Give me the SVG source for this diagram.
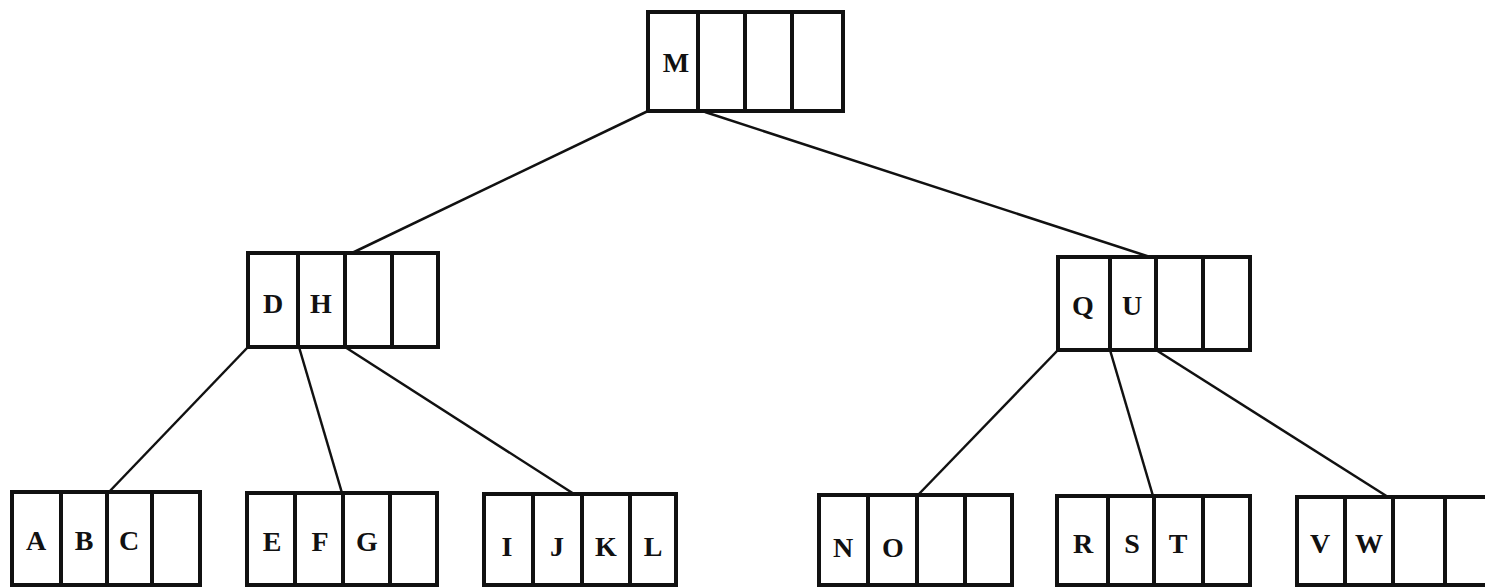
<svg xmlns="http://www.w3.org/2000/svg" width="1485" height="587" viewBox="0 0 1485 587">
<style>
.box{fill:#fff;stroke:#111;stroke-width:4}
.div{stroke:#111;stroke-width:4}
.edge{stroke:#111;stroke-width:2.5;fill:none}
text{font-family:"Liberation Serif","DejaVu Serif",serif;font-weight:bold;font-size:28px;fill:#111;text-anchor:middle}
</style>
<rect width="1485" height="587" fill="#fff"/>
<g id="connectors">
<line class="edge" x1="648" y1="111" x2="352" y2="253"/>
<line class="edge" x1="705" y1="112" x2="1150" y2="257"/>
<line class="edge" x1="248" y1="347" x2="108" y2="493"/>
<line class="edge" x1="299" y1="347" x2="342" y2="493"/>
<line class="edge" x1="345" y1="347" x2="574" y2="494"/>
<line class="edge" x1="1058" y1="350" x2="918" y2="495"/>
<line class="edge" x1="1110" y1="350" x2="1153" y2="496"/>
<line class="edge" x1="1156" y1="350" x2="1388" y2="497"/>
</g>
<g id="root">
<rect class="box" x="648" y="12" width="195" height="99"/>
<line class="div" x1="698" y1="12" x2="698" y2="111"/>
<line class="div" x1="745" y1="12" x2="745" y2="111"/>
<line class="div" x1="792" y1="12" x2="792" y2="111"/>
<text x="676" y="72">M</text>
</g>
<g id="node-DH">
<rect class="box" x="248" y="253" width="190" height="94"/>
<line class="div" x1="298" y1="253" x2="298" y2="347"/>
<line class="div" x1="345" y1="253" x2="345" y2="347"/>
<line class="div" x1="392" y1="253" x2="392" y2="347"/>
<text x="273" y="313">D</text>
<text x="321" y="313">H</text>
</g>
<g id="node-QU">
<rect class="box" x="1058" y="257" width="192" height="93"/>
<line class="div" x1="1110" y1="257" x2="1110" y2="350"/>
<line class="div" x1="1156" y1="257" x2="1156" y2="350"/>
<line class="div" x1="1203" y1="257" x2="1203" y2="350"/>
<text x="1083" y="315">Q</text>
<text x="1132" y="315">U</text>
</g>
<g id="leaf-ABC">
<rect class="box" x="12" y="492" width="188" height="93"/>
<line class="div" x1="61" y1="492" x2="61" y2="585"/>
<line class="div" x1="107" y1="492" x2="107" y2="585"/>
<line class="div" x1="152" y1="492" x2="152" y2="585"/>
<text x="36" y="550">A</text>
<text x="84" y="550">B</text>
<text x="129" y="550">C</text>
</g>
<g id="leaf-EFG">
<rect class="box" x="247" y="493" width="190" height="92"/>
<line class="div" x1="295" y1="493" x2="295" y2="585"/>
<line class="div" x1="343" y1="493" x2="343" y2="585"/>
<line class="div" x1="390" y1="493" x2="390" y2="585"/>
<text x="272" y="551">E</text>
<text x="320" y="551">F</text>
<text x="367" y="551">G</text>
</g>
<g id="leaf-IJKL">
<rect class="box" x="484" y="494" width="192" height="91"/>
<line class="div" x1="533" y1="494" x2="533" y2="585"/>
<line class="div" x1="582" y1="494" x2="582" y2="585"/>
<line class="div" x1="630" y1="494" x2="630" y2="585"/>
<text x="507" y="556">I</text>
<text x="557" y="556">J</text>
<text x="606" y="556">K</text>
<text x="653" y="556">L</text>
</g>
<g id="leaf-NO">
<rect class="box" x="819" y="495" width="193" height="90"/>
<line class="div" x1="868" y1="495" x2="868" y2="585"/>
<line class="div" x1="917" y1="495" x2="917" y2="585"/>
<line class="div" x1="965" y1="495" x2="965" y2="585"/>
<text x="843" y="557">N</text>
<text x="893" y="557">O</text>
</g>
<g id="leaf-RST">
<rect class="box" x="1057" y="496" width="193" height="89"/>
<line class="div" x1="1108" y1="496" x2="1108" y2="585"/>
<line class="div" x1="1154" y1="496" x2="1154" y2="585"/>
<line class="div" x1="1203" y1="496" x2="1203" y2="585"/>
<text x="1083" y="553">R</text>
<text x="1132" y="553">S</text>
<text x="1178" y="553">T</text>
</g>
<g id="leaf-VW">
<rect class="box" x="1297" y="497" width="195" height="88"/>
<line class="div" x1="1345" y1="497" x2="1345" y2="585"/>
<line class="div" x1="1393" y1="497" x2="1393" y2="585"/>
<line class="div" x1="1445" y1="497" x2="1445" y2="585"/>
<text x="1320" y="553">V</text>
<text x="1369" y="553">W</text>
</g>
</svg>
